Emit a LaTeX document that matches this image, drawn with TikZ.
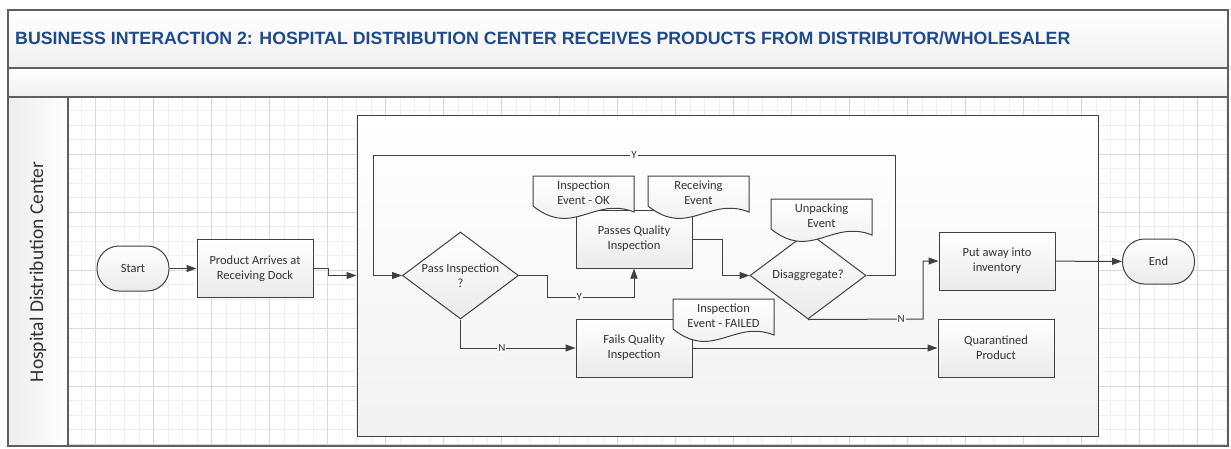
\documentclass[tikz,border=0pt]{standalone}
\usepackage{fontspec}
\setmainfont{Carlito}
\newfontfamily\titlefont{Liberation Sans}
\usetikzlibrary{shapes.geometric,arrows.meta}
\definecolor{titleblue}{HTML}{1F4A8C}
\definecolor{edge}{HTML}{404040}
\definecolor{frame}{HTML}{5F5F5F}
\definecolor{gridminor}{HTML}{EFEFEF}
\definecolor{gridmajor}{HTML}{D9D9D9}
\begin{document}
\begin{tikzpicture}[x=1pt,y=-1pt,
	every node/.style={font=\fontsize{12.5}{15}\selectfont, text=black!80},
	process/.style={draw=edge, line width=1pt, top color=white, bottom color=gray!16, minimum width=116pt, minimum height=58pt, align=center, inner sep=0pt},
	terminal/.style={draw=edge, line width=1pt, top color=white, bottom color=gray!16, rounded corners=22pt, minimum width=72pt, minimum height=45pt},
	decision/.style={diamond, draw=edge, line width=1pt, top color=white, bottom color=gray!16, minimum width=116pt, minimum height=87pt, inner sep=0pt},
	flow/.style={draw=edge, line width=1pt, -{Triangle[length=10pt,width=7pt]}},
	yn/.style={fill=gray!4, inner sep=1pt, font=\fontsize{11}{12}\selectfont}]
		\useasboundingbox (0,0) rectangle (1231,448);
		%Title bands and lane header
		\shade[top color=white, bottom color=gray!12] (8,10) rectangle (1228,68);
		\shade[top color=white, bottom color=gray!12] (8,68) rectangle (1228,97);
		\shade[left color=gray!14, right color=white] (8,97) rectangle (68,446);
		%Grid of the lane
		\foreach \i in {0,...,79}
		\draw[gridminor, line width=0.7pt] (81.2+14.5*\i,97) -- ++(0,349);
		\foreach \j in {0,...,23}
		\draw[gridminor, line width=0.7pt] (68,110.8+14.5*\j) -- ++(1160,0);
		\foreach \i in {0,...,19}
		\draw[gridmajor, line width=0.7pt] (95.7+58*\i,97) -- ++(0,349);
		\foreach \j in {0,...,5}
		\draw[gridmajor, line width=0.7pt] (68,154.3+58*\j) -- ++(1160,0);
		\draw[frame, line width=1.5pt] (8,10) rectangle (1228,446);
		\draw[frame, line width=1.5pt] (8,68) -- (1228,68) (8,97) -- (1228,97) (68,97) -- (68,446);
		\node[anchor=base west, inner sep=0pt, font=\titlefont\bfseries\fontsize{17.75}{20}\selectfont, text=titleblue] (title) at (15,44.3) {BUSINESS INTERACTION 2: HOSPITAL DISTRIBUTION CENTER RECEIVES PRODUCTS FROM DISTRIBUTOR/WHOLESALER};
		\node[rotate=90, font=\fontsize{19.5}{22}\selectfont] (lane) at (38,272) {Hospital Distribution Center};
		%Container of the inspection steps
		\node[draw=edge, line width=1pt, top color=white, bottom color=gray!10, minimum width=741pt, minimum height=321pt, inner sep=0pt] (group) at (727.5,275.5) {};
		%Steps
		\node[terminal] (start) at (133,268.5) {Start};
		\node[process] (product) at (255,268.5) {Product Arrives at\\Receiving Dock};
		\node[decision, label={[align=center]center:Pass Inspection\\?}] (pass) at (460.5,275.5) {};
		\node[process] (passes) at (634,239) {Passes Quality\\Inspection};
		\node[process] (fails) at (634,348) {Fails Quality\\Inspection};
		\node[decision, label=center:Disaggregate?] (disagg) at (808,275.5) {};
		\node[process] (putaway) at (997,261) {Put away into\\inventory};
		\node[process] (quarantine) at (996,348) {Quarantined\\Product};
		\node[terminal] (end) at (1158.5,261.5) {End};
		%Events
		\foreach \l/\t/\nm/\txt in {533/176/okdoc/{Inspection\\Event - OK}, 648/176/recvdoc/{Receiving\\Event}, 771/199/unpackdoc/{Unpacking\\Event}, 673/299/faildoc/{Inspection\\Event - FAILED}}
		{
		\path[draw=edge, line width=1pt, top color=white, bottom color=gray!16] (\l,\t) -- (\l+101,\t) -- (\l+101,\t+36) .. controls (\l+61,\t+20) and (\l+40,\t+62) .. (\l,\t+30) -- cycle;
		\node[align=center, inner sep=0pt] (\nm) at (\l+50.5,\t+16.5) {\txt};
		}
		%Connectors
		\coordinate (ybend) at (547,297);
		\coordinate (nbend) at (923,319);
		\draw[flow] (start) -- (product);
		\draw[flow] (product.east) -- (328,268.5) |- (group.west);
		\draw[flow] (disagg.east) -| (895,155) -- node[yn]{Y} (373,155) |- (pass.west);
		\draw[flow] (pass.east) -| (ybend) -- node[yn, pos=0.37]{Y} (passes.south |- ybend) -- (passes.south);
		\draw[flow] (passes.east) -- (722,239) |- (disagg.west);
		\draw[flow] (disagg.south) -- node[yn, pos=0.81]{N} (nbend) |- (putaway.west);
		\draw[flow] (putaway) -- (end);
		\draw[flow] (pass.south) |- node[yn, pos=0.68]{N} (fails.west);
		\draw[flow] (fails) -- (quarantine);
\end{tikzpicture}
\end{document}
